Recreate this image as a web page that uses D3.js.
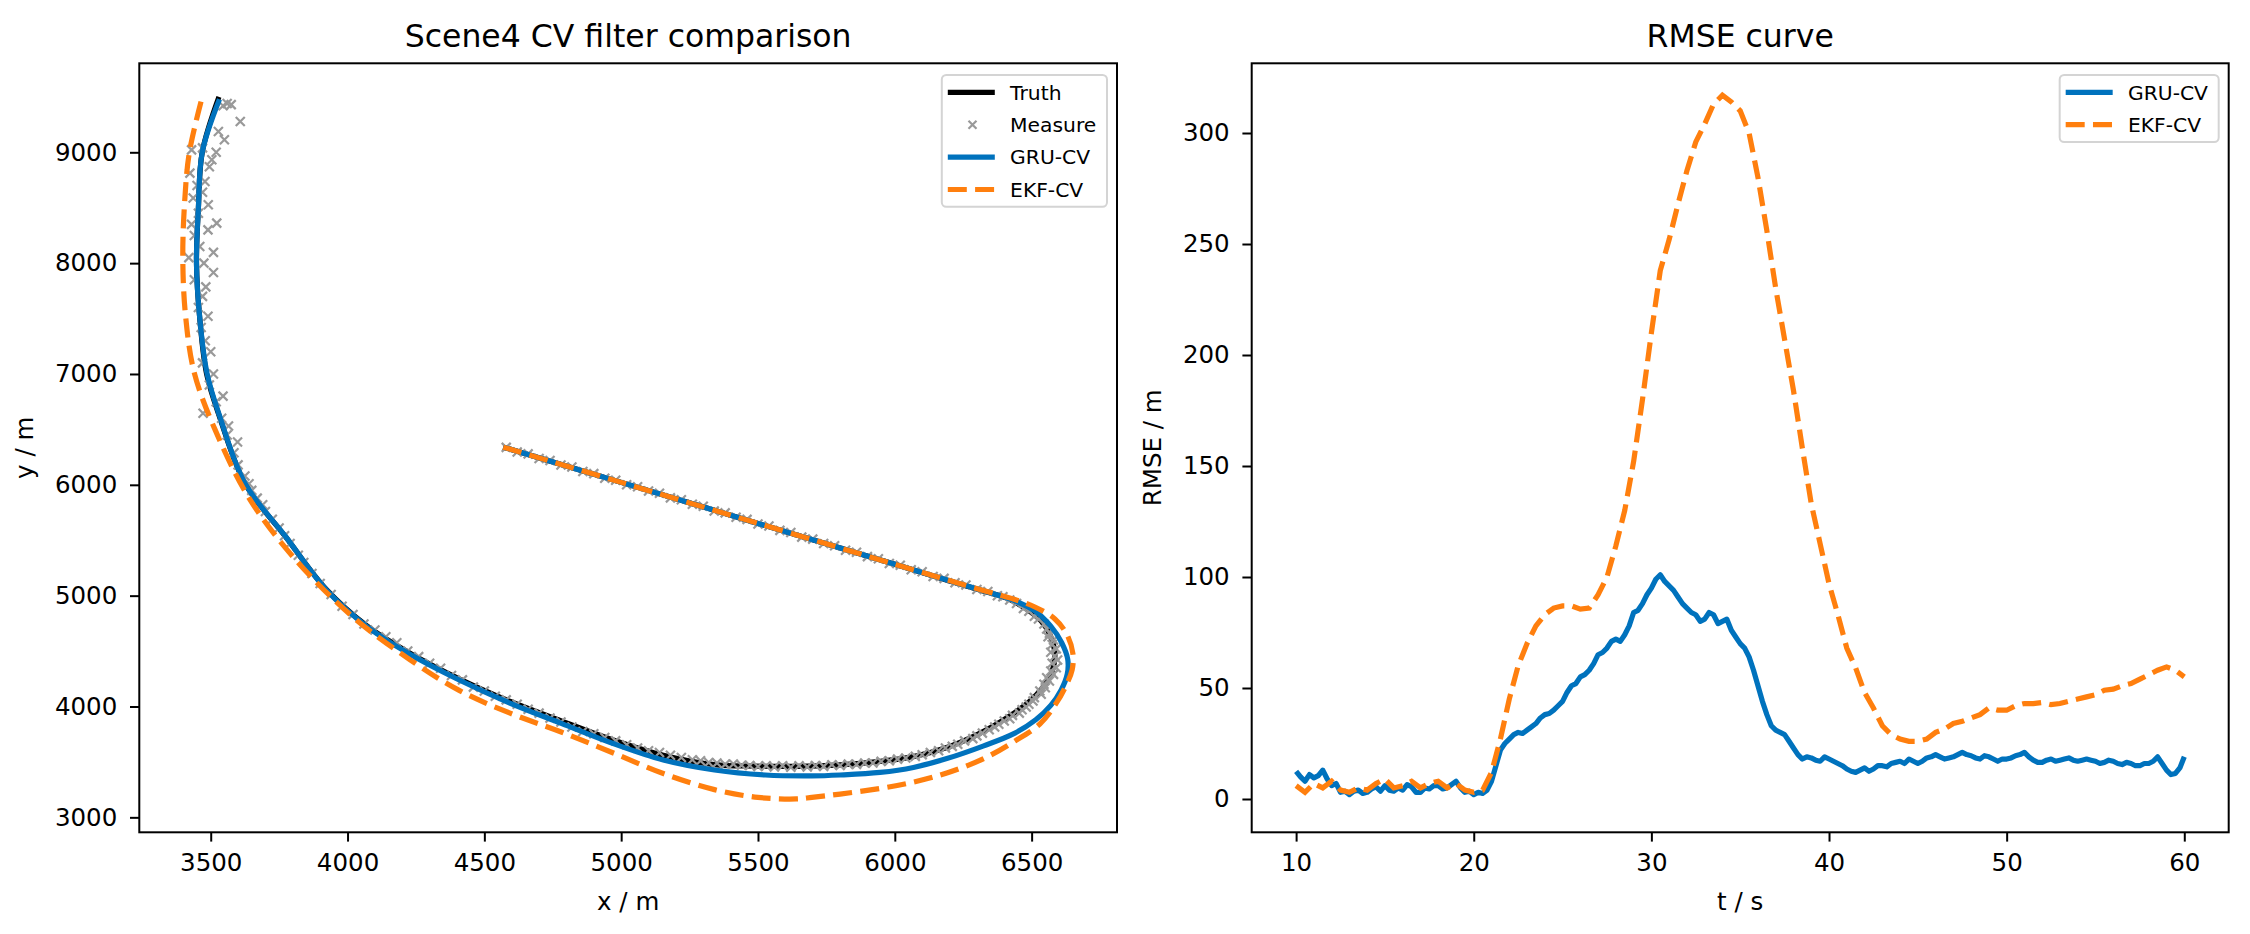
<!DOCTYPE html>
<html>
<head>
<meta charset="utf-8">
<script src="https://cdn.jsdelivr.net/npm/d3@7"></script>
<style>
  body { margin: 0; background: #fff; }
  text { font-family: "DejaVu Sans", sans-serif; fill: #000; }
</style>
</head>
<body>
<div id="canvas"></div>
<script>
// ---------- data: trajectory plot (x / m, y / m) ----------
const truthPath = [[4569,6340],[5000,6022],[5500,5652],[6000,5283],[6200,5133],[6320,5045],[6409,4977],[6480,4880],[6535,4770],[6570,4630],[6585,4470],[6575,4320],[6540,4170],[6490,4040],[6420,3915],[6312,3760],[6190,3630],[6068,3548],[5946,3505],[5800,3474],[5640,3460],[5487,3462],[5341,3475],[5154,3560],[4968,3700],[4781,3870],[4595,4045],[4408,4250],[4222,4490],[4072,4725],[3923,5055],[3774,5530],[3625,6014],[3532,6616],[3485,7000],[3460,7500],[3448,8000],[3455,8500],[3469,9000],[3530,9500]];

const gruPath = [[4569,6340],[5000,6022],[5500,5652],[6000,5283],[6200,5135],[6320,5047],[6430,4962],[6510,4865],[6570,4725],[6610,4575],[6632,4425],[6630,4290],[6608,4150],[6570,4010],[6515,3880],[6435,3755],[6325,3645],[6190,3530],[6068,3450],[5946,3405],[5800,3382],[5697,3374],[5527,3382],[5341,3427],[5154,3517],[4968,3668],[4781,3848],[4595,4029],[4408,4239],[4222,4480],[4072,4720],[3923,5051],[3774,5532],[3625,6014],[3534,6610],[3487,7000],[3460,7500],[3448,8000],[3455,8500],[3469,9000],[3532,9478]];

const ekfPath = [[4569,6340],[5000,6022],[5500,5652],[6000,5283],[6200,5136],[6320,5049],[6420,4980],[6510,4900],[6585,4790],[6630,4645],[6651,4475],[6648,4330],[6625,4185],[6590,4030],[6530,3842],[6440,3690],[6325,3530],[6190,3400],[6068,3318],[5946,3260],[5800,3210],[5697,3180],[5640,3166],[5500,3180],[5341,3250],[5154,3395],[4967,3585],[4781,3770],[4594,3940],[4408,4145],[4230,4419],[4020,4807],[3810,5325],[3643,5869],[3517,6491],[3440,7010],[3408,7527],[3398,8045],[3405,8564],[3422,9000],[3467,9480]];

const measurePts = [
  [4580,6338],[4620,6296],[4660,6279],[4700,6237],[4740,6220],[4780,6178],[4820,6161],[4860,6121],[4900,6101],[4940,6060],
  [4980,6042],[5020,6001],[5060,5983],[5100,5944],[5140,5924],[5180,5882],[5220,5865],[5260,5825],[5300,5806],[5340,5764],
  [5380,5747],[5420,5707],[5460,5688],[5500,5646],[5540,5628],[5580,5589],[5620,5569],[5660,5528],[5700,5510],[5740,5471],
  [5780,5451],[5820,5410],[5860,5392],[5900,5352],[5940,5333],[5980,5291],[6020,5274],[6060,5234],[6100,5215],[6140,5173],
  [6180,5156],[6220,5116],[6260,5096],[6300,5055],[6340,5037],[6375,4999],
  [6395,4990],[6420,4960],[6445,4930],[6470,4885],[6490,4860],[6510,4815],[6525,4790],[6545,4745],[6555,4700],[6565,4660],
  [6560,4630],[6580,4600],[6575,4560],[6590,4520],[6570,4490],[6585,4455],[6595,4420],[6575,4390],[6590,4350],[6570,4320],
  [6580,4290],[6555,4260],[6565,4230],[6545,4200],[6550,4170],[6530,4140],[6535,4110],[6510,4080],[6505,4050],[6490,4020],
  [6480,3995],[6465,3970],[6455,3940],[6430,3920],[6420,3890],[6400,3870],[6380,3840],[6365,3815],[6345,3790],[6320,3760],
  [6300,3735],[6285,3710],[6255,3690],[6230,3660],[6210,3640],[6185,3625],[6160,3600],[6130,3585],[6100,3565],[6075,3550],
  [6040,3535],[6010,3525],[5980,3510],[5950,3505],[5920,3490],[5890,3490],[5860,3478],[5830,3480],[5800,3468],[5770,3475],
  [5740,3460],[5710,3468],[5680,3455],[5650,3465],[5620,3452],[5590,3466],[5560,3455],[5530,3465],[5500,3458],[5470,3468],
  [5440,3470],[5410,3482],[5380,3478],[5350,3490],[5320,3495],[5290,3510],[5260,3520],[5220,3540],[5180,3560],[5140,3585],
  [5100,3600],[5060,3625],[5020,3655],[4980,3690],[4940,3720],[4900,3755],[4860,3775],[4820,3815],[4780,3860],[4740,3895],
  [4700,3940],[4660,3975],[4620,4020],[4580,4060],[4540,4092],[4500,4140],[4460,4175],[4420,4240],[4380,4280],[4340,4345],
  [4300,4390],[4260,4450],[4220,4500],[4180,4575],[4140,4630],[4100,4690],[4060,4745],[4020,4830],[3980,4905],[3940,5010],
  [3900,5110],[3870,5200],[3840,5300],[3820,5365],[3790,5470],[3770,5540],[3750,5610],[3725,5690],[3700,5760],[3690,5820],
  [3670,5880],[3650,5950],[3640,6010],[3625,6080],[3600,6180],[3585,6290],[3598,6387],[3560,6450],[3565,6530],
  [3540,6600],[3472,6646],[3520,6750],[3545,6800],[3495,6900],[3510,7000],[3470,7100],[3500,7200],[3480,7300],[3465,7420],
  [3490,7520],[3455,7600],[3470,7700],[3482,7786],[3440,7850],[3510,7915],[3475,8000],[3420,8050],[3510,8097],[3460,8150],
  [3440,8250],[3490,8300],[3430,8350],[3522,8361],[3455,8450],[3491,8526],[3436,8587],[3470,8640],[3450,8700],[3479,8737],
  [3424,8812],[3495,8870],[3504,8932],[3520,9000],[3430,9022],[3470,9040],[3550,9113],[3528,9188],[3608,9278],[3545,9420],
  [3575,9430],[3560,9440]
];

const trajXTicks = [3500, 4000, 4500, 5000, 5500, 6000, 6500];
const trajYTicks = [3000, 4000, 5000, 6000, 7000, 8000, 9000];

// ---------- data: RMSE curve (t / s, RMSE / m) ----------
// EKF sampled every 0.5 s, GRU every 0.25 s
const tEkf = [10,10.5,11,11.5,12,12.5,13,13.5,14,14.5,15,15.5,16,16.5,17,17.5,18,18.5,19,19.5,
  20,20.5,21,21.5,22,22.5,23,23.5,24,24.5,25,25.5,26,26.5,27,27.5,28,28.5,29,29.5,
  30,30.5,31,31.5,32,32.5,33,33.5,34,34.5,35,35.5,36,36.5,37,37.5,38,38.5,39,39.5,
  40,40.5,41,41.5,42,42.5,43,43.5,44,44.5,45,45.5,46,46.5,47,47.5,48,48.5,49,49.5,
  50,50.5,51,51.5,52,52.5,53,53.5,54,54.5,55,55.5,56,56.5,57,57.5,58,58.5,59,59.5,60];

const ekfRmse = [6,3,7,5,8,4,3,5,4,7,9,5,6,8,5,7,8,5,7,4,
  3,4,12,27,45,60,70,78,83,86,87,87,85.5,86,92,100,114,130,152,180,
  210,238,252,268,283,296,304,313,317,314,310,300,280,256,230,207,184,158,133,115,
  97,83,68,59,48,41,33,29,27,26,26,27,30,31.5,34,35,36.5,38,41,40,
  40,42,43,43,43.5,42.5,43,44,45,46,47,49,49.5,51,52,54,56,58,59.5,58,55];

const tGru = d3.range(10, 60.001, 0.25);
const gruRmse = [
  12.5,10,8,11,9.5,10.5,13,9,6,7,3,3.5,2,3.5,4,2.5,3,4.5,5.5,3.5,
  6,4,3.5,5,4,6.5,5.5,3,3,5,4.5,6,6,4.5,5,6.5,8,5,3,3.5,
  2,3,2.5,4,8,15,22,25,27,29,30,29.5,31,32.5,34,36.5,38,38.5,40,42,
  44,48,51,52,55,56,58,61,65,66,68,71,72,71,74,78,84,85,88,92,
  95,99,101,98,96,94,91,88,86,84,83,80,81,84,83,79,80,81,76,73,
  70,68,64,58,51,44,38,33,31,30,29,26,23,20,18,19,18.5,17.5,17,19,
  18,17,16,15,13.5,12.5,12,13,14,12.5,13.5,15,15,14.5,16,16.5,17,16,18,17,
  16,17,18.5,19,20,19,18,18.5,19,20,21,20,19.5,18.5,18,19.5,19,18,17,18,
  18,18.5,19.5,20,21,19,17.5,16.5,16.5,17.5,18,17,17.5,18,18.5,17.5,17,17.5,18,17.5,
  17,16,16.5,17.5,17,16,15.5,16.5,16,15,15,16,16,17,19,16,13,11,11.5,14,
  19];

const rmseXTicks = [10, 20, 30, 40, 50, 60];
const rmseYTicks = [0, 50, 100, 150, 200, 250, 300];

// ---------- layout ----------
const width = 2250;
const height = 934;
const plotTop = 63.3, plotBottom = 832.3;
const leftPlot = { x0: 139.3, x1: 1117 };
const rightPlot = { x0: 1251.7, x1: 2228.7 };

const blue = "#0072bd";
const orange = "#ff7f0e";
const lw = 5.2;
const dash = "19,8.3";

const svg = d3.select("#canvas").append("svg")
  .attr("width", width)
  .attr("height", height);

function drawAxes(g, x, y, xTicks, yTicks, p) {
  const ax = g.append("g")
    .attr("transform", `translate(0, ${plotBottom})`)
    .call(d3.axisBottom(x).tickValues(xTicks).tickFormat(d3.format("d")).tickSize(9.3).tickPadding(12.4));
  const ay = g.append("g")
    .attr("transform", `translate(${p.x0}, 0)`)
    .call(d3.axisLeft(y).tickValues(yTicks).tickFormat(d3.format("d")).tickSize(9.3).tickPadding(12.7));
  [ax, ay].forEach(a => {
    a.select(".domain").remove();
    a.selectAll("line").attr("stroke", "#000").attr("stroke-width", 2);
    a.selectAll("text")
      .style("font-family", "DejaVu Sans")
      .style("font-size", "24.5px")
      .attr("fill", "#000");
  });
}

function frame(g, p) {
  g.append("rect")
    .attr("x", p.x0).attr("y", plotTop)
    .attr("width", p.x1 - p.x0).attr("height", plotBottom - plotTop)
    .attr("fill", "none").attr("stroke", "#000").attr("stroke-width", 2);
}

function xMark(sel, r) {
  return sel.attr("d", `M${-r},${-r}L${r},${r}M${-r},${r}L${r},${-r}`);
}

function legend(g, p, items) {
  const lg = g.append("g");
  const box = lg.append("rect");
  const rowH = 32.4;
  let maxW = 0;
  items.forEach((it, i) => {
    const cy = 17.3 + i * rowH;
    if (it.type === "line") {
      lg.append("line")
        .attr("x1", 6).attr("x2", 53).attr("y1", cy).attr("y2", cy)
        .attr("stroke", it.color).attr("stroke-width", lw)
        .attr("stroke-dasharray", it.dash || null);
    } else {
      lg.append("path")
        .call(xMark, 4)
        .attr("transform", `translate(30.7, ${cy})`)
        .attr("stroke", it.color).attr("stroke-width", 2.2);
    }
    const t = lg.append("text")
      .attr("x", 68.3).attr("y", cy).attr("dy", "0.36em")
      .style("font-size", "20.3px")
      .text(it.label);
    maxW = Math.max(maxW, t.node().getComputedTextLength());
  });
  const w = 68.3 + maxW + 10.7;
  const h = 17.3 * 2 + (items.length - 1) * rowH;
  box.attr("x", 0).attr("y", 0).attr("width", w).attr("height", h)
    .attr("rx", 4.5)
    .attr("fill", "#fff").attr("fill-opacity", 0.8)
    .attr("stroke", "#d4d4d4").attr("stroke-width", 2);
  lg.attr("transform", `translate(${p.x1 - 10 - w}, ${plotTop + 11.7})`);
}

// ---------- left: trajectories ----------
const xTraj = d3.scaleLinear().domain([3239, 6812]).range([leftPlot.x0, leftPlot.x1]);
const yTraj = d3.scaleLinear().domain([2865, 9803]).range([plotBottom, plotTop]);

const gl = svg.append("g");
drawAxes(gl, xTraj, yTraj, trajXTicks, trajYTicks, leftPlot);

const pathLine = d3.line()
  .x(d => xTraj(d[0]))
  .y(d => yTraj(d[1]))
  .curve(d3.curveCatmullRom);

gl.append("path").datum(truthPath).attr("d", pathLine)
  .attr("fill", "none").attr("stroke", "#000").attr("stroke-width", lw);

gl.append("g").selectAll("path").data(measurePts).enter().append("path")
  .call(xMark, 4.5)
  .attr("transform", d => `translate(${xTraj(d[0])}, ${yTraj(d[1])})`)
  .attr("stroke", "#999").attr("stroke-width", 2.2);

gl.append("path").datum(gruPath).attr("d", pathLine)
  .attr("fill", "none").attr("stroke", blue).attr("stroke-width", lw);

gl.append("path").datum(ekfPath).attr("d", pathLine)
  .attr("fill", "none").attr("stroke", orange).attr("stroke-width", lw)
  .attr("stroke-dasharray", dash);

frame(gl, leftPlot);

gl.append("text")
  .attr("x", (leftPlot.x0 + leftPlot.x1) / 2).attr("y", 47.4)
  .attr("text-anchor", "middle").style("font-size", "31.5px")
  .text("Scene4 CV filter comparison");
gl.append("text")
  .attr("x", (leftPlot.x0 + leftPlot.x1) / 2).attr("y", 910)
  .attr("text-anchor", "middle").style("font-size", "24.5px")
  .text("x / m");
gl.append("text")
  .attr("transform", `translate(33, ${(plotTop + plotBottom) / 2}) rotate(-90)`)
  .attr("text-anchor", "middle").style("font-size", "24.5px")
  .text("y / m");

legend(gl, leftPlot, [
  { type: "line", color: "#000", label: "Truth" },
  { type: "marker", color: "#999", label: "Measure" },
  { type: "line", color: blue, label: "GRU-CV" },
  { type: "line", color: orange, dash: dash, label: "EKF-CV" }
]);

// ---------- right: RMSE ----------
const xT = d3.scaleLinear().domain([7.5, 62.5]).range([rightPlot.x0, rightPlot.x1]);
const yR = d3.scaleLinear().domain([-15, 331.4]).range([plotBottom, plotTop]);

const gr = svg.append("g");
drawAxes(gr, xT, yR, rmseXTicks, rmseYTicks, rightPlot);

gr.append("path").datum(gruRmse)
  .attr("d", d3.line().x((d, i) => xT(tGru[i])).y(d => yR(d)))
  .attr("fill", "none").attr("stroke", blue).attr("stroke-width", lw)
  .attr("stroke-linejoin", "round");
gr.append("path").datum(ekfRmse)
  .attr("d", d3.line().x((d, i) => xT(tEkf[i])).y(d => yR(d)))
  .attr("fill", "none").attr("stroke", orange).attr("stroke-width", lw)
  .attr("stroke-dasharray", dash);

frame(gr, rightPlot);

gr.append("text")
  .attr("x", (rightPlot.x0 + rightPlot.x1) / 2).attr("y", 47.4)
  .attr("text-anchor", "middle").style("font-size", "31.5px")
  .text("RMSE curve");
gr.append("text")
  .attr("x", (rightPlot.x0 + rightPlot.x1) / 2).attr("y", 910)
  .attr("text-anchor", "middle").style("font-size", "24.5px")
  .text("t / s");
gr.append("text")
  .attr("transform", `translate(1161, ${(plotTop + plotBottom) / 2}) rotate(-90)`)
  .attr("text-anchor", "middle").style("font-size", "24.5px")
  .text("RMSE / m");

legend(gr, rightPlot, [
  { type: "line", color: blue, label: "GRU-CV" },
  { type: "line", color: orange, dash: dash, label: "EKF-CV" }
]);
</script>
</body>
</html>
